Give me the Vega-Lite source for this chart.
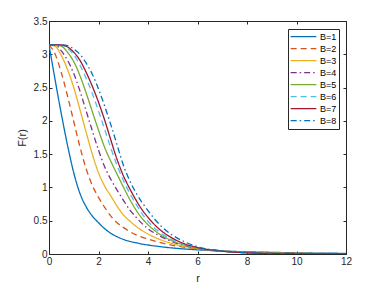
{
  "$schema": "https://vega.github.io/schema/vega-lite/v6.json",
  "width": 297,
  "height": 233,
  "autosize": {"type": "none"},
  "padding": {"left": 49, "top": 21, "right": 36, "bottom": 32},
  "background": "white",
  "config": {
    "font": "Liberation Sans",
    "view": {"stroke": "#262626", "strokeWidth": 1},
    "axis": {
      "grid": false,
      "domainColor": "#262626",
      "tickColor": "#262626",
      "labelColor": "#262626",
      "titleColor": "#262626",
      "labelFontSize": 10,
      "titleFontSize": 11,
      "titleFontWeight": "normal",
      "labelFont": "Liberation Sans",
      "titleFont": "Liberation Sans",
      "labelFlush": false,
      "labelOverlap": false
    }
  },
  "data": {"values": [
    {"B":"B=1","r":0,"F":3.1416},{"B":"B=1","r":0.25,"F":2.61},{"B":"B=1","r":0.5,"F":2.10},{"B":"B=1","r":0.75,"F":1.63},{"B":"B=1","r":1,"F":1.22},{"B":"B=1","r":1.25,"F":0.91},{"B":"B=1","r":1.5,"F":0.71},{"B":"B=1","r":1.75,"F":0.57},{"B":"B=1","r":2,"F":0.47},{"B":"B=1","r":2.25,"F":0.38},{"B":"B=1","r":2.5,"F":0.31},{"B":"B=1","r":2.75,"F":0.26},{"B":"B=1","r":3,"F":0.22},{"B":"B=1","r":3.25,"F":0.19},{"B":"B=1","r":3.5,"F":0.17},{"B":"B=1","r":3.75,"F":0.15},{"B":"B=1","r":4,"F":0.135},{"B":"B=1","r":4.5,"F":0.11},{"B":"B=1","r":5,"F":0.09},{"B":"B=1","r":5.5,"F":0.075},{"B":"B=1","r":6,"F":0.063},{"B":"B=1","r":7,"F":0.045},{"B":"B=1","r":8,"F":0.033},{"B":"B=1","r":9,"F":0.025},{"B":"B=1","r":10,"F":0.018},{"B":"B=1","r":11,"F":0.013},{"B":"B=1","r":12,"F":0.01},
    {"B":"B=2","r":0,"F":3.1416},{"B":"B=2","r":0.25,"F":3.0},{"B":"B=2","r":0.5,"F":2.72},{"B":"B=2","r":0.75,"F":2.37},{"B":"B=2","r":1,"F":1.99},{"B":"B=2","r":1.25,"F":1.61},{"B":"B=2","r":1.5,"F":1.28},{"B":"B=2","r":1.75,"F":1.03},{"B":"B=2","r":2,"F":0.85},{"B":"B=2","r":2.25,"F":0.70},{"B":"B=2","r":2.5,"F":0.57},{"B":"B=2","r":2.75,"F":0.47},{"B":"B=2","r":3,"F":0.40},{"B":"B=2","r":3.25,"F":0.34},{"B":"B=2","r":3.5,"F":0.29},{"B":"B=2","r":3.75,"F":0.255},{"B":"B=2","r":4,"F":0.225},{"B":"B=2","r":4.5,"F":0.17},{"B":"B=2","r":5,"F":0.13},{"B":"B=2","r":5.5,"F":0.10},{"B":"B=2","r":6,"F":0.075},{"B":"B=2","r":7,"F":0.045},{"B":"B=2","r":8,"F":0.028},{"B":"B=2","r":9,"F":0.018},{"B":"B=2","r":10,"F":0.012},{"B":"B=2","r":11,"F":0.008},{"B":"B=2","r":12,"F":0.006},
    {"B":"B=3","r":0,"F":3.1416},{"B":"B=3","r":0.25,"F":3.12},{"B":"B=3","r":0.5,"F":2.98},{"B":"B=3","r":0.75,"F":2.77},{"B":"B=3","r":1,"F":2.50},{"B":"B=3","r":1.25,"F":2.17},{"B":"B=3","r":1.5,"F":1.83},{"B":"B=3","r":1.75,"F":1.50},{"B":"B=3","r":2,"F":1.22},{"B":"B=3","r":2.25,"F":1.02},{"B":"B=3","r":2.5,"F":0.87},{"B":"B=3","r":2.75,"F":0.72},{"B":"B=3","r":3,"F":0.59},{"B":"B=3","r":3.25,"F":0.50},{"B":"B=3","r":3.5,"F":0.42},{"B":"B=3","r":3.75,"F":0.355},{"B":"B=3","r":4,"F":0.30},{"B":"B=3","r":4.5,"F":0.215},{"B":"B=3","r":5,"F":0.155},{"B":"B=3","r":5.5,"F":0.11},{"B":"B=3","r":6,"F":0.08},{"B":"B=3","r":7,"F":0.043},{"B":"B=3","r":8,"F":0.024},{"B":"B=3","r":9,"F":0.014},{"B":"B=3","r":10,"F":0.009},{"B":"B=3","r":11,"F":0.006},{"B":"B=3","r":12,"F":0.004},
    {"B":"B=4","r":0,"F":3.1416},{"B":"B=4","r":0.25,"F":3.14},{"B":"B=4","r":0.5,"F":3.05},{"B":"B=4","r":0.75,"F":2.91},{"B":"B=4","r":1,"F":2.71},{"B":"B=4","r":1.25,"F":2.45},{"B":"B=4","r":1.5,"F":2.15},{"B":"B=4","r":1.75,"F":1.85},{"B":"B=4","r":2,"F":1.56},{"B":"B=4","r":2.25,"F":1.31},{"B":"B=4","r":2.5,"F":1.12},{"B":"B=4","r":2.75,"F":0.96},{"B":"B=4","r":3,"F":0.81},{"B":"B=4","r":3.25,"F":0.67},{"B":"B=4","r":3.5,"F":0.56},{"B":"B=4","r":3.75,"F":0.46},{"B":"B=4","r":4,"F":0.38},{"B":"B=4","r":4.5,"F":0.265},{"B":"B=4","r":5,"F":0.18},{"B":"B=4","r":5.5,"F":0.125},{"B":"B=4","r":6,"F":0.085},{"B":"B=4","r":7,"F":0.042},{"B":"B=4","r":8,"F":0.021},{"B":"B=4","r":9,"F":0.011},{"B":"B=4","r":10,"F":0.006},{"B":"B=4","r":11,"F":0.004},{"B":"B=4","r":12,"F":0.003},
    {"B":"B=5","r":0,"F":3.1416},{"B":"B=5","r":0.25,"F":3.1416},{"B":"B=5","r":0.5,"F":3.12},{"B":"B=5","r":0.75,"F":3.03},{"B":"B=5","r":1,"F":2.89},{"B":"B=5","r":1.25,"F":2.68},{"B":"B=5","r":1.5,"F":2.42},{"B":"B=5","r":1.75,"F":2.14},{"B":"B=5","r":2,"F":1.86},{"B":"B=5","r":2.25,"F":1.60},{"B":"B=5","r":2.5,"F":1.39},{"B":"B=5","r":2.75,"F":1.20},{"B":"B=5","r":3,"F":1.01},{"B":"B=5","r":3.25,"F":0.83},{"B":"B=5","r":3.5,"F":0.67},{"B":"B=5","r":3.75,"F":0.54},{"B":"B=5","r":4,"F":0.44},{"B":"B=5","r":4.5,"F":0.29},{"B":"B=5","r":5,"F":0.195},{"B":"B=5","r":5.5,"F":0.13},{"B":"B=5","r":6,"F":0.088},{"B":"B=5","r":7,"F":0.042},{"B":"B=5","r":8,"F":0.02},{"B":"B=5","r":9,"F":0.01},{"B":"B=5","r":10,"F":0.005},{"B":"B=5","r":11,"F":0.003},{"B":"B=5","r":12,"F":0.002},
    {"B":"B=6","r":0,"F":3.1416},{"B":"B=6","r":0.25,"F":3.1416},{"B":"B=6","r":0.5,"F":3.135},{"B":"B=6","r":0.75,"F":3.09},{"B":"B=6","r":1,"F":2.99},{"B":"B=6","r":1.25,"F":2.84},{"B":"B=6","r":1.5,"F":2.64},{"B":"B=6","r":1.75,"F":2.41},{"B":"B=6","r":2,"F":2.15},{"B":"B=6","r":2.25,"F":1.87},{"B":"B=6","r":2.5,"F":1.59},{"B":"B=6","r":2.75,"F":1.33},{"B":"B=6","r":3,"F":1.11},{"B":"B=6","r":3.25,"F":0.92},{"B":"B=6","r":3.5,"F":0.76},{"B":"B=6","r":3.75,"F":0.61},{"B":"B=6","r":4,"F":0.49},{"B":"B=6","r":4.5,"F":0.32},{"B":"B=6","r":5,"F":0.21},{"B":"B=6","r":5.5,"F":0.14},{"B":"B=6","r":6,"F":0.092},{"B":"B=6","r":7,"F":0.042},{"B":"B=6","r":8,"F":0.019},{"B":"B=6","r":9,"F":0.009},{"B":"B=6","r":10,"F":0.004},{"B":"B=6","r":11,"F":0.002},{"B":"B=6","r":12,"F":0.001},
    {"B":"B=7","r":0,"F":3.1416},{"B":"B=7","r":0.25,"F":3.1416},{"B":"B=7","r":0.5,"F":3.14},{"B":"B=7","r":0.75,"F":3.11},{"B":"B=7","r":1,"F":3.03},{"B":"B=7","r":1.25,"F":2.91},{"B":"B=7","r":1.5,"F":2.73},{"B":"B=7","r":1.75,"F":2.52},{"B":"B=7","r":2,"F":2.28},{"B":"B=7","r":2.25,"F":2.01},{"B":"B=7","r":2.5,"F":1.71},{"B":"B=7","r":2.75,"F":1.42},{"B":"B=7","r":3,"F":1.18},{"B":"B=7","r":3.25,"F":0.99},{"B":"B=7","r":3.5,"F":0.82},{"B":"B=7","r":3.75,"F":0.67},{"B":"B=7","r":4,"F":0.55},{"B":"B=7","r":4.5,"F":0.36},{"B":"B=7","r":5,"F":0.235},{"B":"B=7","r":5.5,"F":0.15},{"B":"B=7","r":6,"F":0.097},{"B":"B=7","r":7,"F":0.042},{"B":"B=7","r":8,"F":0.018},{"B":"B=7","r":9,"F":0.008},{"B":"B=7","r":10,"F":0.004},{"B":"B=7","r":11,"F":0.002},{"B":"B=7","r":12,"F":0.001},
    {"B":"B=8","r":0,"F":3.1416},{"B":"B=8","r":0.25,"F":3.1416},{"B":"B=8","r":0.5,"F":3.14},{"B":"B=8","r":0.75,"F":3.13},{"B":"B=8","r":1,"F":3.08},{"B":"B=8","r":1.25,"F":3.00},{"B":"B=8","r":1.5,"F":2.87},{"B":"B=8","r":1.75,"F":2.70},{"B":"B=8","r":2,"F":2.48},{"B":"B=8","r":2.25,"F":2.22},{"B":"B=8","r":2.5,"F":1.94},{"B":"B=8","r":2.75,"F":1.64},{"B":"B=8","r":3,"F":1.34},{"B":"B=8","r":3.25,"F":1.11},{"B":"B=8","r":3.5,"F":0.93},{"B":"B=8","r":3.75,"F":0.78},{"B":"B=8","r":4,"F":0.65},{"B":"B=8","r":4.5,"F":0.43},{"B":"B=8","r":5,"F":0.28},{"B":"B=8","r":5.5,"F":0.18},{"B":"B=8","r":6,"F":0.11},{"B":"B=8","r":7,"F":0.047},{"B":"B=8","r":8,"F":0.02},{"B":"B=8","r":9,"F":0.009},{"B":"B=8","r":10,"F":0.004},{"B":"B=8","r":11,"F":0.002},{"B":"B=8","r":12,"F":0.001}
  ]},
  "layer": [
    {
      "mark": {"type": "line", "interpolate": "monotone", "strokeWidth": 1.3, "clip": true},
      "encoding": {
        "x": {"field": "r", "type": "quantitative",
              "scale": {"domain": [0, 12], "nice": false},
              "axis": {"orient": "bottom", "values": [0,2,4,6,8,10,12], "format": "~g", "tickSize": -3, "labelPadding": 5,
                       "title": "r", "titleX": 148.5, "titleY": 24, "titleBaseline": "middle", "titleAnchor": null}},
        "y": {"field": "F", "type": "quantitative",
              "scale": {"domain": [0, 3.5], "nice": false},
              "axis": {"orient": "left", "values": [0,0.5,1,1.5,2,2.5,3,3.5], "format": "~g", "tickSize": -3, "labelPadding": 5,
                       "title": "F(r)", "titleX": -27, "titleY": 116.5, "titleAngle": -90, "titleBaseline": "middle", "titleAlign": "center"}},
        "color": {"field": "B", "type": "nominal",
                  "scale": {"domain": ["B=1","B=2","B=3","B=4","B=5","B=6","B=7","B=8"],
                            "range": ["#0072BD","#D95319","#EDB120","#7E2F8E","#77AC30","#4DBEEE","#A2142F","#0072BD"]},
                  "legend": {"title": null, "orient": "none", "legendX": 239, "legendY": 8,
                             "symbolType": "stroke", "symbolSize": 660, "symbolStrokeWidth": 1.3,
                             "clipHeight": 11.2, "padding": 2, "rowPadding": 0, "labelOffset": 3,
                             "strokeColor": "#262626", "fillColor": "white", "labelFontSize": 9,
                             "labelColor": "#000000", "labelFont": "Liberation Sans", "cornerRadius": 0}},
        "strokeDash": {"field": "B", "type": "nominal",
                       "scale": {"domain": ["B=1","B=2","B=3","B=4","B=5","B=6","B=7","B=8"],
                                 "range": [[1,0],[6,4],[1,0],[6,3,1.5,3],[1,0],[6,4],[1,0],[6,3,1.5,3]]},
                       "legend": {"title": null, "orient": "none", "legendX": 239, "legendY": 8,
                             "symbolType": "stroke", "symbolSize": 660, "symbolStrokeWidth": 1.3,
                             "clipHeight": 11.2, "padding": 2, "rowPadding": 0, "labelOffset": 3,
                             "strokeColor": "#262626", "fillColor": "white", "labelFontSize": 9,
                             "labelColor": "#000000", "labelFont": "Liberation Sans", "cornerRadius": 0}}
      }
    },
    {
      "mark": {"type": "line", "opacity": 0},
      "encoding": {
        "x": {"field": "r", "type": "quantitative",
              "axis": {"orient": "top", "values": [0,2,4,6,8,10,12], "tickSize": -3, "labels": false, "domain": false, "title": null}},
        "y": {"field": "F", "type": "quantitative",
              "axis": {"orient": "right", "values": [0,0.5,1,1.5,2,2.5,3,3.5], "tickSize": -3, "labels": false, "domain": false, "title": null}},
        "detail": {"field": "B"}
      }
    }
  ],
  "resolve": {"axis": {"x": "independent", "y": "independent"}}
}
